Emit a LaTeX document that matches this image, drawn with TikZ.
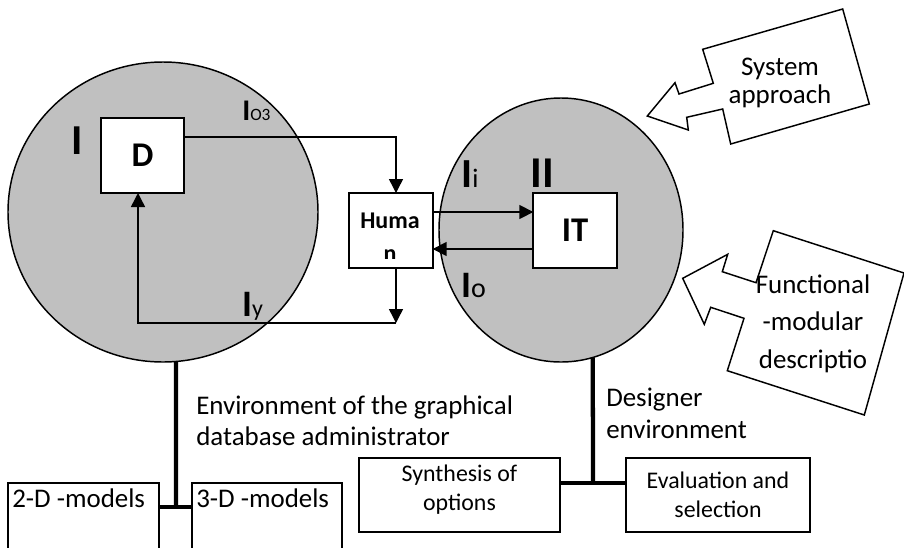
\documentclass[tikz,border=0pt]{standalone}
\usepackage{fontspec}
\setmainfont{Carlito}
\usetikzlibrary{arrows.meta,calc,shapes.geometric}
\definecolor{zonegray}{HTML}{C0C0C0}

\begin{document}
\begin{tikzpicture}[x=0.75pt,y=-0.75pt]
    \tikzset{zone/.style={ellipse,draw,line width=1.1pt,fill=zonegray,inner sep=0pt,outer sep=0pt},
        block/.style={draw,line width=1.3pt,fill=white,inner sep=0pt,outer sep=0pt,minimum width=62.5pt,minimum height=56.25pt,font=\bfseries\fontsize{26}{30}\selectfont},
        panel/.style={draw,line width=1.3pt,fill=white,inner sep=0pt,outer sep=0pt},
        flow/.style={line width=1.1pt,-{Triangle[length=10.5pt,width=10.5pt]}},
        bus/.style={line width=3.2pt},
        callout/.style={draw,line width=1.1pt,fill=white},
        txt/.style={inner sep=0pt,align=left,font=\fontsize{20.2}{23}\selectfont},
        smalltxt/.style={inner sep=0pt,align=center,font=\fontsize{17.9}{21.5}\selectfont},
        tag/.style={inner sep=0pt,anchor=base west}}
    \newcommand\flowlabel[3]{{\bfseries\fontsize{#1}{#1}\selectfont I}{\fontsize{#2}{#2}\selectfont #3}}

    \useasboundingbox (0,0) rectangle (904,547);

    \node[zone,minimum width=232.5pt,minimum height=225pt] (zoneI) at (163,212) {};
    \node[zone,minimum width=183pt,minimum height=198pt] (zoneII) at (561,230) {};

    \node[block] (D) at (142.5,155.5) {D};
    \node[block] (human) at (391,230.5) {};
    \node[inner sep=0pt,anchor=base,font=\bfseries\fontsize{18}{22}\selectfont] (humantop) at (390,228) {Huma};
    \begin{scope}
        \clip (349,190) rectangle (433,258);
        \node[inner sep=0pt,anchor=base,font=\bfseries\fontsize{18}{22}\selectfont] (humanbot) at (390,261) {n};
    \end{scope}
    \node[block] (IT) at (575,230.5) {IT};

    \node[tag,font=\bfseries\fontsize{32}{34}\selectfont] (lblI) at (71,154) {I};
    \node[tag,font=\bfseries\fontsize{33}{35}\selectfont] (lblII) at (530,187) {II};
    \node[tag] (lblo3) at (242,120) {\flowlabel{22.5}{13}{O3}};
    \node[tag] (lbly) at (242,316) {\flowlabel{28}{18}{y}};
    \node[tag] (lbli) at (461,187) {\flowlabel{31}{20}{i}};
    \node[tag] (lblo) at (461,297) {\flowlabel{28}{21}{o}};

    \draw[flow] ($(D.east)+(0,-18.5)$) -| ($(human.north)+(5,0)$);
    \draw[flow] ($(human.south)+(5,0)$) -- ++(0,55) coordinate (loopR);
    \draw[flow] (loopR) -| ($(D.south)+(-4.5,0)$);
    \draw[flow] ($(human.east)+(0,-18.5)$) -- ($(IT.west)+(0,-18.5)$);
    \draw[flow] ($(IT.west)+(0,18.5)$) -- ($(human.east)+(0,18.5)$);

    \draw[callout] (702.7,49.3) -- (842.7,9) -- (869.3,104) -- (730.7,144) -- (722.7,109) -- (686.7,117.3) -- (688.3,130) -- (647.3,116) -- (675,82.7) -- (679,94) -- (713.3,83.3) -- cycle;
    \node[txt,align=center,anchor=base,font=\fontsize{20.2}{21}\selectfont] (sysapp) at (780,103) {System\\approach};
    \draw[callout] (773.3,230.7) -- (904,273) -- (864.3,415) -- (727.3,370.7) -- (744,318.3) -- (710.7,307.3) -- (704.3,324.3) -- (682.7,278.3) -- (727.7,254.3) -- (722.3,271.7) -- (756,282.7) -- cycle;
    \node[txt,align=center,anchor=base,font=\fontsize{20.2}{28}\selectfont] (funcmod) at (813,368) {Functional\\-modular\\descriptio};

    \node[panel,anchor=north west,minimum width=113.25pt,minimum height=80pt] (models2) at (8,483) {};
    \node[panel,anchor=north west,minimum width=112.5pt,minimum height=80pt] (models3) at (192,483) {};
    \node[txt,anchor=base west] (models2txt) at (12,507) {2-D -models};
    \node[txt,anchor=base west] (models3txt) at (196,507) {3-D -models};
    \node[panel,minimum width=150.75pt,minimum height=55.5pt] (synth) at (459.5,495) {};
    \node[smalltxt,anchor=base] (synthtxt) at (459.5,510) {Synthesis of\\options};
    \node[panel,smalltxt,minimum width=138pt,minimum height=55.5pt] (evalsel) at (718,495) {Evaluation and\\selection};

    \coordinate (jL) at (176,507);
    \coordinate (jR) at (593,483);
    \draw[bus] (zoneI.-85) -- (jL);
    \draw[bus] (models2.east |- jL) -- (models3.west |- jL);
    \draw[bus] (zoneII.-76) -- (jR);
    \draw[bus] (synth.east |- jR) -- (evalsel.west |- jR);

    \node[txt,anchor=base west] (envadmin) at (196,445) {Environment of the graphical\\database administrator};
    \node[txt,anchor=base west,font=\fontsize{20.2}{23.5}\selectfont] (envdesign) at (606,438) {Designer\\environment};
\end{tikzpicture}
\end{document}
